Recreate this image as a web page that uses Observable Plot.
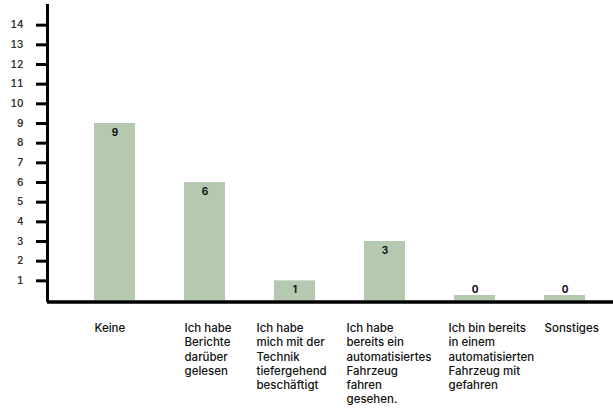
<!DOCTYPE html>
<html>
<head>
<meta charset="utf-8">
<script src="https://cdn.jsdelivr.net/npm/d3@7"></script>
<script src="https://cdn.jsdelivr.net/npm/@observablehq/plot@0.6"></script>
<style>
  html, body { margin: 0; padding: 0; background: #fff; }
  #chart { width: 613px; height: 410px; overflow: hidden; }
</style>
</head>
<body>
<div id="chart"></div>
<script>
const categories = [
  "Keine",
  "Ich habe\nBerichte\ndarüber\ngelesen",
  "Ich habe\nmich mit der\nTechnik\ntiefergehend\nbeschäftigt",
  "Ich habe\nbereits ein\nautomatisiertes\nFahrzeug\nfahren\ngesehen.",
  "Ich bin bereits\nin einem\nautomatisierten\nFahrzeug mit\ngefahren",
  "Sonstiges"
];
const values = [9, 6, 1, 3, 0, 0];
const yTicks = [1, 2, 3, 4, 5, 6, 7, 8, 9, 10, 11, 12, 13, 14];

const data = categories.map((c, i) => ({category: c, value: values[i], idx: i}));
const barColor = "#b5c9b0";
const font = "Inter, 'Liberation Sans', sans-serif";

const labelText = (filter, dx) => Plot.text(data.filter(filter), {
  x: "category", y: () => 0, text: "category",
  textAnchor: "start", lineAnchor: "top",
  dx: -20.5 + dx, dy: 22, lineHeight: 1.22,
  fontSize: 11.5, fontWeight: 500, fill: "#111"
});

const chart = Plot.plot({
  width: 613,
  height: 410,
  marginTop: 5,
  marginBottom: 110,
  marginLeft: 47,
  marginRight: 0,
  style: {fontFamily: font, background: "#fff"},
  x: {domain: categories, range: [49, 630], paddingInner: 1 - 41 / 90, paddingOuter: 0.5, round: false, axis: null},
  y: {domain: [0, 15], axis: null},
  marks: [
    Plot.barY(data, {x: "category", y: "value", fill: barColor}),
    Plot.barY(data.filter(d => d.value === 0), {x: "category", y: "value", fill: barColor, insetTop: -5}),
    Plot.text(data.filter(d => d.value > 0), {
      x: "category", y: "value", text: d => String(d.value),
      dy: 9, fontSize: 10, fontWeight: "bold", fill: "#111"
    }),
    Plot.text(data.filter(d => d.value === 0), {
      x: "category", y: "value", text: d => String(d.value),
      dy: -11, fontSize: 10, fontWeight: "bold", fill: "#111"
    }),
    labelText(d => d.idx === 0 || d.idx === 1 || d.idx === 5, 0),
    labelText(d => d.idx === 2 || d.idx === 3, -18),
    labelText(d => d.idx === 4, -6),
    Plot.axisY(yTicks, {
      label: null,
      tickSize: 11, tickPadding: 13, strokeWidth: 3,
      fontSize: 10, fontWeight: 600, fill: "#333", stroke: "#000"
    }),
    Plot.frame({anchor: "left", stroke: "#000", strokeWidth: 3}),
    Plot.ruleY([0], {stroke: "#000", strokeWidth: 3.5, dy: 1.5})
  ]
});

document.getElementById("chart").appendChild(chart);
</script>
</body>
</html>
